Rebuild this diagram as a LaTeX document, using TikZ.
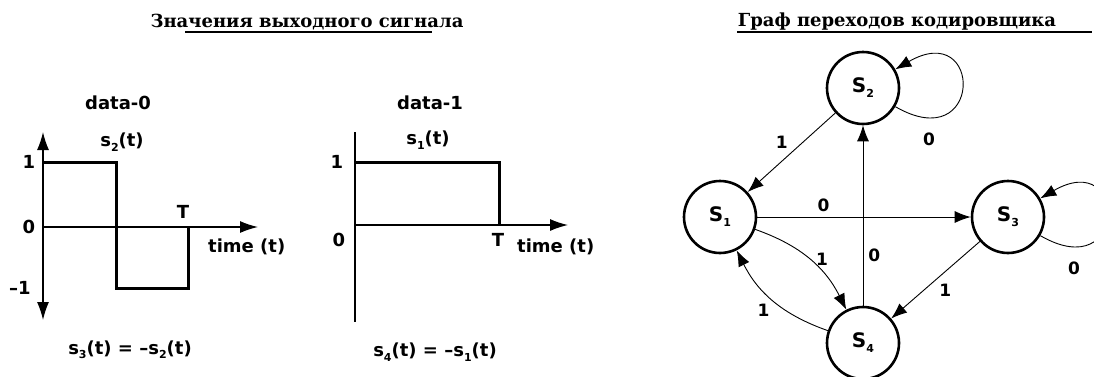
\documentclass[tikz,border=0pt]{standalone}
\usepackage{fontspec}
\newfontfamily\ttlfont{DejaVu Serif}
\newfontfamily\lblfont{DejaVu Sans}
\usetikzlibrary{arrows.meta, positioning}

\newcommand{\lowidx}[1]{\raisebox{-0.45ex}{\fontsize{11}{11}\selectfont #1}}

\begin{document}
\begin{tikzpicture}[
  x=1pt, y=1pt,
  title/.style={font=\fontsize{18}{18}\selectfont\ttlfont\bfseries, inner sep=0pt},
  lbl/.style={font=\fontsize{18}{18}\selectfont\lblfont\bfseries, inner sep=1pt},
  axis/.style={line width=1.3pt},
  axtip/.style={line width=1.3pt, >={Latex[length=18pt,width=12pt]}},
  sig/.style={line width=3pt},
  state/.style={circle, draw, line width=2.6pt, minimum size=72pt, inner sep=0pt,
                font=\fontsize{20}{20}\selectfont\lblfont\bfseries},
  trans/.style={-{Latex[length=16pt,width=12pt]}, line width=0.9pt},
  edgelbl/.style={font=\fontsize{17}{17}\selectfont\lblfont\bfseries, inner sep=2pt}
]
\useasboundingbox (0,0) rectangle (1094,-376);

% titles
\node[title] (sigtitle) at (307,-22) {Значения выходного сигнала};
\draw[line width=1.5pt] (185,-32) -- (432,-32);
\node[title] (graphtitle) at (897,-22) {Граф переходов кодировщика};
\draw[line width=1.5pt] (737,-32) -- (1092,-32);

% data-0
\node[lbl] (d0) at (118,-103) {data-0};
\draw[axtip, <->] (43,-132) -- (43,-320);
\draw[axtip, ->] (43,-227) -- (258,-227);
\draw[sig] (43,-162) -- (116,-162) -- (116,-288) -- (188,-288) -- (188,-227);
\node[lbl] (s2t) at (122,-142) {s\lowidx{2}(t)};
\node[lbl] (one0) at (29,-162) {1};
\node[lbl] (zero0) at (29,-227) {0};
\node[lbl] (mone0) at (20,-288) {–1};
\node[lbl] (T0) at (183,-212) {T};
\node[lbl, anchor=west] (time0) at (207,-247) {time (t)};
\node[lbl] (eq0) at (130,-350) {s\lowidx{3}(t) = –s\lowidx{2}(t)};

% data-1
\node[lbl] (d1) at (430,-103) {data-1};
\draw[axis] (355,-132) -- (355,-322);
\draw[axtip, ->] (355,-225) -- (568,-225);
\draw[sig] (355,-162) -- (499,-162) -- (499,-225);
\node[lbl] (s1t) at (428,-140) {s\lowidx{1}(t)};
\node[lbl] (one1) at (337,-162) {1};
\node[lbl] (zero1) at (339,-240) {0};
\node[lbl] (T1) at (498,-240) {T};
\node[lbl, anchor=west] (time1) at (516,-247) {time (t)};
\node[lbl] (eq1) at (435,-352) {s\lowidx{4}(t) = –s\lowidx{1}(t)};

% encoder graph
\node[state] (s2) at (863,-88)  {S\lowidx{2}};
\node[state] (s1) at (720,-217) {S\lowidx{1}};
\node[state] (s3) at (1008,-217) {S\lowidx{3}};
\node[state] (s4) at (863,-343) {S\lowidx{4}};

\draw[trans] (s2) -- node[edgelbl, above left=2pt, pos=0.5] {1} (s1);
\draw[trans] (s1) -- node[edgelbl, above=3pt, pos=0.31] {0} (s3);
\draw[trans] (s4) -- node[edgelbl, right=3pt, pos=0.28] {0} (s2);
\draw[trans] (s1) to[bend left=22] node[edgelbl, right=4pt] {1} (s4);
\draw[trans] (s4) to[bend left=22] node[edgelbl, below left=2pt] {1} (s1);
\draw[trans] (s3) -- node[edgelbl, below right=2pt] {1} (s4);
\draw[trans] (s2) to[out=-30, in=30, looseness=7] node[edgelbl, below=12pt, pos=0.15] {0} (s2);
\draw[trans] (s3) to[out=-30, in=30, looseness=7] node[edgelbl, below=12pt, pos=0.15] {0} (s3);

\end{tikzpicture}
\end{document}
